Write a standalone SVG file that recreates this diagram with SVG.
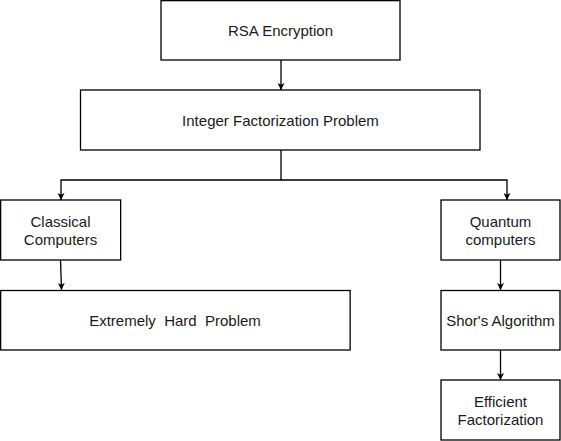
<svg xmlns="http://www.w3.org/2000/svg" width="561" height="441" viewBox="0 0 561 441">
<style>
.box{fill:#fff;stroke:#000;stroke-width:1.3}
.t{font-family:"Liberation Sans",Arial,sans-serif;font-size:15px;fill:#1a1a1a;text-anchor:middle;white-space:pre}
.c{fill:none;stroke:#000;stroke-width:1.3}
</style>
<defs>
<marker id="ah" viewBox="0 0 10 10" refX="10" refY="5" markerWidth="7" markerHeight="7" markerUnits="userSpaceOnUse" orient="auto">
<path d="M0,0 L10,5 L0,10 L2.5,5 Z" fill="#000"/>
</marker>
</defs>
<rect width="561" height="441" fill="#fff"/>
<g id="connectors">
<path class="c" d="M281,60 V90" marker-end="url(#ah)"/>
<path class="c" d="M281,150 V180 H61 V200" marker-end="url(#ah)"/>
<path class="c" d="M281,180 H507 V200" marker-end="url(#ah)"/>
<path class="c" d="M60.5,260 L61.5,290" marker-end="url(#ah)"/>
<path class="c" d="M500.5,260 V290" marker-end="url(#ah)"/>
<path class="c" d="M500.5,350 V380" marker-end="url(#ah)"/>
</g>
<g id="rsa"><rect class="box" x="161" y="0.65" width="239" height="59.35"/><text class="t" x="280.5" y="35.5">RSA Encryption</text></g>
<g id="integer"><rect class="box" x="80.5" y="90" width="399.5" height="60"/><text class="t" x="280.5" y="125.5">Integer Factorization Problem</text></g>
<g id="classical"><rect class="box" x="0.65" y="200" width="120" height="60"/><text class="t" x="60.5" y="227">Classical</text><text class="t" x="60.5" y="245">Computers</text></g>
<g id="hard"><rect class="box" x="0.65" y="290.5" width="349.5" height="59.5"/><text class="t" x="175" y="325.5">Extremely  Hard  Problem</text></g>
<g id="quantum"><rect class="box" x="441" y="200" width="119" height="60"/><text class="t" x="500.5" y="227">Quantum</text><text class="t" x="500.5" y="245">computers</text></g>
<g id="shor"><rect class="box" x="441" y="290.5" width="119" height="59.5"/><text class="t" x="500.5" y="325.5">Shor's Algorithm</text></g>
<g id="efficient"><rect class="box" x="441" y="380" width="119" height="60"/><text class="t" x="500.5" y="407">Efficient</text><text class="t" x="500.5" y="425">Factorization</text></g>
</svg>
